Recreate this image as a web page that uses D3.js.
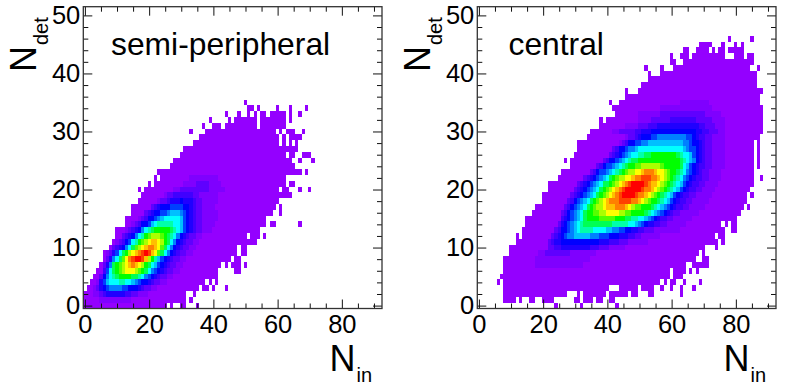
<!DOCTYPE html>
<html>
<head>
<meta charset="utf-8">
<script src="https://cdn.jsdelivr.net/npm/d3@7"></script>
<style>
  html, body { margin: 0; padding: 0; background: #fff; }
  text { font-family: "Liberation Sans", Arial, sans-serif; fill: #000; }
</style>
</head>
<body>
<svg id="chart" width="788" height="389"></svg>
<script>
// histogram cells: index of the list = N_det bin
const semiEnvelope = [
  "0-25 27 30-31 35", "0-31 33", "0-31 34", "1-35 37-38 40 44", "2-37 39 41", "3-41",
  "4-41 47-48", "5-42 44 46-48 50", "6-45 47-48", "6-47 49-50", "8-47 49-50", "9-53",
  "10-50 52-54 56", "10-54", "13-56 58-59 67", "13-56", "15-58 61", "15-59 61",
  "17-60", "18-64", "17 19-60 62-63 67 70", "20 22-62 64-65", "22 24-62", "23-67 69",
  "27-65", "28-64 67 71", "30-62 64-65 68-70", "31-66", "34-60 62 64 66", "36-60 62 64-67",
  "33 38-59 61 63-65 68", "37 40-42 44-53 55-62", "39 45 47-53 55-62 64",
  "44 48 51 53 55-56 58-62 64 67", "51-52 54 60 64 69", "50"
];
const centralEnvelope = [
  "24 32 43", "8-11 13 16-17 20-23 30-31 33-35 37-38 41-42", "8-27 31 33-39 41-46 48-49 53-54 63",
  "8-40 44-49 51-54 57 60 63 67", "6 8-56 58 60-61 64 69", "7-59 61-63", "8-59 61-64 66 68",
  "8-64 67-71", "8-67 70-71", "10-68 70", "10-70 74", "12-74 76", "12 14-73 75-76",
  "14-76 79-80", "15-75 77 79-80", "15-80", "17-81", "18-82 84", "20-83", "20-83 85",
  "22-84", "22-85", "25-85 88", "26-85", "29-85 87", "27 29-85 87", "30-85 87", "31-85 87",
  "31-85 87", "34-87", "35-88", "38-88", "38 40-88", "43-88", "42-88", "41 44-87", "46-87",
  "46 50-88", "51-86", "53-86", "53 57-86", "52 57 61-84 87", "60-61 64-85",
  "60 63-65 67-76 80-82 84-85", "64-65 68-71 73 75-76 78-82", "69-72 76 80 82", "78 85"
];

// colour level of the denser cells: [N_det bin, first N_in bin, one base-36 digit per bin]
const semiCore = [
  [1, 5, "2222222222"],
  [2, 3, "22345555554433222"],
  [3, 3, "23567888877666543322"],
  [4, 4, "2579aaabbaa98766543322"],
  [5, 5, "368abcddddccba876543322"],
  [6, 6, "47acdefgggfedca876543322"],
  [7, 6, "358cdefghihgfdca976543322"],
  [8, 7, "358acegijkkjhfdb976543322"],
  [9, 7, "2357acdfghijkjhgeca86543322"],
  [10, 9, "34568acefghiihgeca86543322"],
  [11, 10, "23467abdefghhgfdca86543322"],
  [12, 12, "34568abdefffedcba86543322"],
  [13, 13, "234568abcdddddcba9765433222"],
  [14, 15, "2346679abbbbbaa97654332222"],
  [15, 17, "23466789aaaaa976543322222"],
  [16, 19, "34566778999876543322222"],
  [17, 21, "34566677776654332222"],
  [18, 23, "2334555655543322222"],
  [19, 25, "23344444433222222"],
  [20, 28, "2233333333322222"],
  [21, 31, "222233332222"],
  [22, 33, "222222222"]
];
const centralCore = [
  [7, 18, "222222222222222"],
  [8, 18, "22222222222222222"],
  [9, 19, "223333333322222222"],
  [10, 22, "334455555555544433322222"],
  [11, 22, "3455666666666666555444333222222"],
  [12, 23, "34567889999988877766655544" + "33222222"],
  [13, 24, "34667" + "89abbbbaaaa99887766554433" + "322222222"],
  [14, 25, "356789abcccccccccbbbbbaa98765544" + "33222222"],
  [15, 26, "456789acddddeeeeedddccbbaa987654433" + "222222"],
  [16, 26, "346789acddeeffggggffeeddddcba987654" + "33222222"],
  [17, 27, "346789acdeffghhhiiihgfeedddcba98765443322222"],
  [18, 28, "346789acdefghiiijjjjiihgfeddcba976544" + "3322222"],
  [19, 29, "3456789acdefghijkkkkjiihgfedcba976544" + "3322222"],
  [20, 30, "3456789acdefghijkkkkkjiihgfedcba976544" + "332222"],
  [21, 31, "3456789accdefghijkkkkjihhgfedcba976544" + "332222"],
  [22, 33, "3456789acdeffgghiijjjiihgfedcba8765443" + "32222"],
  [23, 35, "34677" + "89abcdeffgghiiihggfeddcba876543" + "32222"],
  [24, 37, "346778" + "9abcddeeffffffedddddca976544" + "332222"],
  [25, 39, "346678" + "9abccdddddddddddddcba98654" + "332222"],
  [26, 41, "34567" + "89aabbccddddddddcbaa97654" + "332222"],
  [27, 42, "34667" + "889aaaaaaaaaaaaaa98776543" + "32222"],
  [28, 44, "23466778899999999999" + "88766543" + "32222"],
  [29, 46, "2334566677" + "888888888" + "77654433" + "2222"],
  [30, 42, "2233333" + "44555" + "66666666666666" + "554433" + "322"],
  [31, 46, "2222333444" + "5555555555555" + "44333" + "222"],
  [32, 50, "2222333333" + "44444444" + "33333" + "2222"],
  [33, 50, "2222222" + "33333333333333" + "22222"],
  [34, 57, "2222222222222222"],
  [35, 63, "222222222"]
];

const xMajor = [0, 20, 40, 60, 80];
const xMinor = [5, 10, 15, 25, 30, 35, 45, 50, 55, 65, 70, 75, 85, 90];
const yMajor = [0, 10, 20, 30, 40, 50];
const yMinor = [2, 4, 6, 8, 12, 14, 16, 18, 22, 24, 26, 28, 32, 34, 36, 38, 42, 44, 46, 48];

const color = d3.scaleLinear()
    .domain([1, 2, 6, 10, 13, 16, 20])
    .range(["#9400ff", "#7f00ff", "#0000ff", "#00ffff", "#00ff00", "#ffff00", "#ff0000"])
    .clamp(true);

const svg = d3.select("#chart");

function buildCells(envelope, core) {
    let levels = new Map();
    envelope.forEach((row, yBin) => {
        row.split(" ").forEach(span => {
            let [from, to] = span.split("-").map(Number);
            for (let x = from; x <= (to === undefined ? from : to); x++) {
                levels.set(x + "," + yBin, 1);
            }
        });
    });
    core.forEach(([yBin, start, digits]) => {
        digits.split("").forEach((c, i) => {
            let key = (start + i) + "," + yBin;
            if (levels.has(key)) levels.set(key, parseInt(c, 36));
        });
    });
    return Array.from(levels, ([key, level]) => {
        let [x, y] = key.split(",").map(Number);
        return {x: x, y: y, level: level};
    });
}

function drawPanel(offset, envelope, core, title, titleX) {
    let x = d3.scaleLinear().domain([-0.5, 92.5]).range([83.3 + offset, 382 + offset]);
    let y = d3.scaleLinear().domain([-0.5, 51.5]).range([308.5, 6.7]);
    let g = svg.append("g");

    g.append("g").selectAll("rect")
        .data(buildCells(envelope, core))
        .enter().append("rect")
        .attr("x", d => x(d.x - 0.5))
        .attr("y", d => y(d.y + 0.5))
        .attr("width", d => x(d.x + 0.5) - x(d.x - 0.5))
        .attr("height", d => y(d.y - 0.5) - y(d.y + 0.5))
        .attr("fill", d => color(d.level))
        .attr("shape-rendering", "crispEdges");

    let axes = [
        [d3.axisBottom(x), 0, 308.5, xMajor, xMinor, true],
        [d3.axisTop(x), 0, 6.7, xMajor, xMinor, false],
        [d3.axisLeft(y), 83.3 + offset, 0, yMajor, yMinor, true],
        [d3.axisRight(y), 382 + offset, 0, yMajor, yMinor, false]
    ];
    axes.forEach(([axis, tx, ty, major, minor, labels]) => {
        let vertical = tx !== 0;
        g.append("g")
            .attr("transform", `translate(${tx},${ty})`)
            .call(axis.tickValues(major).tickSize(-9).tickPadding(vertical ? 3 : 6.5)
                .tickFormat(labels ? d3.format("d") : ""))
            .call(a => a.select(".domain").remove())
            .call(a => a.selectAll("text").attr("font-size", 25.5).attr("font-family", null))
            .call(a => a.selectAll("line").attr("stroke", "#111"));
        g.append("g")
            .attr("transform", `translate(${tx},${ty})`)
            .call(axis.tickValues(minor).tickSize(-5).tickFormat(""))
            .call(a => a.select(".domain").remove())
            .call(a => a.selectAll("line").attr("stroke", "#111"));
    });

    g.append("rect")
        .attr("x", 83.3 + offset).attr("y", 6.7)
        .attr("width", 298.7).attr("height", 301.8)
        .attr("fill", "none").attr("stroke", "#333").attr("stroke-width", 1.3);

    g.append("text").attr("x", titleX + offset).attr("y", 55)
        .attr("font-size", 31.8).text(title);

    // axis titles with their subscripts
    let yLabel = g.append("text").attr("transform", `translate(${36 + offset},72) rotate(-90)`)
        .attr("font-size", 36);
    yLabel.append("tspan").text("N");
    yLabel.append("tspan").attr("font-size", 20).attr("dy", 12).attr("dx", 1).text("det");

    let xLabel = g.append("text").attr("x", 329.5 + offset).attr("y", 371).attr("font-size", 36);
    xLabel.append("tspan").text("N");
    xLabel.append("tspan").attr("font-size", 20).attr("dy", 10.5).attr("dx", 1).text("in");
}

drawPanel(0, semiEnvelope, semiCore, "semi-peripheral", 111);
drawPanel(394, centralEnvelope, centralCore, "central", 114.5);
</script>
</body>
</html>
